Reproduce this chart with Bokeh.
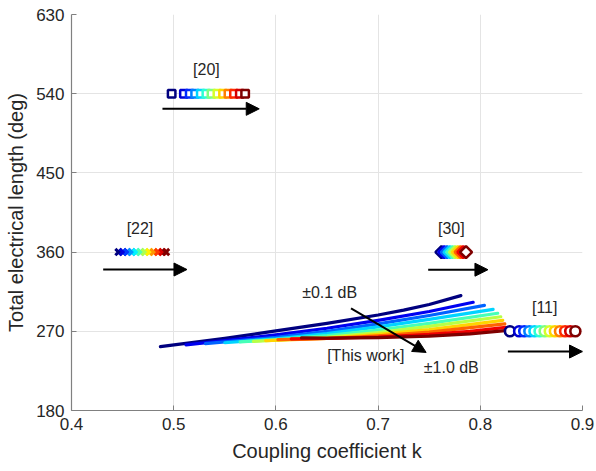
import numpy as np
from bokeh.plotting import figure
from bokeh.models import Arrow, NormalHead, Label, FixedTicker
from bokeh.embed import file_html
from bokeh.resources import INLINE

# ---------------- data ----------------
# "This work" curves (coupling k, total electrical length in deg), blue -> dark red
curve_k = [
    [0.487, 0.55, 0.60, 0.65, 0.70, 0.725, 0.75, 0.781],
    [0.512, 0.55, 0.60, 0.65, 0.70, 0.75, 0.793],
    [0.531, 0.60, 0.65, 0.70, 0.75, 0.804],
    [0.550, 0.60, 0.65, 0.70, 0.75, 0.8125],
    [0.565, 0.60, 0.65, 0.70, 0.75, 0.817],
    [0.578, 0.60, 0.65, 0.70, 0.75, 0.820],
    [0.590, 0.65, 0.70, 0.75, 0.822],
    [0.602, 0.65, 0.70, 0.75, 0.824],
    [0.615, 0.65, 0.70, 0.75, 0.79, 0.825],
    [0.625, 0.65, 0.70, 0.75, 0.79, 0.827],
]
curve_deg = [
    [252.5, 262, 270.5, 279, 288.5, 294, 300.5, 310.5],
    [254.5, 259.5, 266, 273.5, 282.5, 292.5, 303],
    [256, 263, 270, 278.5, 288, 299.5],
    [257, 261.5, 267.5, 275, 283.5, 295],
    [258, 260.5, 265, 271.5, 279, 290.5],
    [258.5, 259.8, 263, 268.5, 275.5, 286.5],
    [259.5, 262, 266.5, 272, 282.5],
    [260.5, 261.8, 264.8, 269, 278.5],
    [261.5, 261.8, 263.5, 266.5, 270, 274.5],
    [262.5, 262.3, 262.8, 264.5, 267, 271],
]

# Reference works
ref20_k = [0.498, 0.510, 0.5157, 0.521, 0.5265, 0.532, 0.537, 0.5428, 0.5483, 0.5536, 0.559, 0.5647, 0.5699]
ref20_deg = 540
ref22_k = [0.446, 0.4503, 0.4546, 0.4589, 0.4632, 0.4675, 0.4718, 0.4761, 0.4804, 0.4847, 0.489, 0.4925]
ref22_deg = 360
ref30_k = [0.762, 0.7647, 0.7673, 0.770, 0.7727, 0.7753, 0.778, 0.7807, 0.7833, 0.786]
ref30_deg = 360
ref11_k = [0.829, 0.838, 0.843, 0.848, 0.853, 0.858, 0.863, 0.868, 0.873, 0.878, 0.883, 0.888, 0.893]
ref11_deg = 270

ref_labels = ["[20]", "[22]", "[30]", "[11]"]
ref_label_k = [0.532, 0.467, 0.7716, 0.863]
ref_label_deg = [568, 387, 386.5, 297.4]
ref_arrow_k0 = [0.489, 0.431, 0.749, 0.827]
ref_arrow_k1 = [0.5837, 0.513, 0.8075, 0.900]
ref_arrow_deg = [522.8, 340.2, 340.0, 247.0]

x_ticks = [0.4, 0.5, 0.6, 0.7, 0.8, 0.9]
y_ticks = [180, 270, 360, 450, 540, 630]

FONT = "Liberation Sans"
TXT = "#262626"


def jet(t):
    r = min(max(1.5 - abs(4 * t - 3), 0), 1)
    g = min(max(1.5 - abs(4 * t - 2), 0), 1)
    b = min(max(1.5 - abs(4 * t - 1), 0), 1)
    return "#%02x%02x%02x" % (int(r * 255), int(g * 255), int(b * 255))


def jet_list(n):
    return [jet(i / (n - 1)) for i in range(n)]


p = figure(x_range=(0.4, 0.9), y_range=(180, 630),
           frame_width=511, frame_height=396,
           min_border_left=71, min_border_right=14, min_border_top=14, min_border_bottom=61,
           output_backend="svg", toolbar_location=None)
p.outline_line_color = None
p.background_fill_color = "white"
p.border_fill_color = "white"

p.xaxis.ticker = FixedTicker(ticks=x_ticks)
p.yaxis.ticker = FixedTicker(ticks=y_ticks)
p.xgrid.ticker = FixedTicker(ticks=x_ticks[1:])
p.ygrid.ticker = FixedTicker(ticks=y_ticks[1:-1])
p.grid.grid_line_color = "#e4e4e4"
p.grid.grid_line_width = 1

for ax in (p.xaxis[0], p.yaxis[0]):
    ax.axis_line_color = "#808080"
    ax.axis_line_width = 1.2
    ax.major_tick_line_color = "#808080"
    ax.major_tick_in = 5
    ax.major_tick_out = 0
    ax.minor_tick_line_color = None
    ax.major_label_text_font = FONT
    ax.major_label_text_font_size = "17px"
    ax.major_label_text_color = TXT
    ax.major_label_standoff = 7
    ax.axis_label_text_font = FONT
    ax.axis_label_text_font_size = "20px"
    ax.axis_label_text_font_style = "normal"
    ax.axis_label_text_color = TXT

p.yaxis.axis_label = "Total electrical length (deg)"
p.yaxis.axis_label_standoff = 6
p.xaxis.axis_label = "Coupling coefficient k"
p.xaxis.axis_label_standoff = 7

# curves
cc = jet_list(len(curve_k))
for ks, ds, c in zip(curve_k, curve_deg, cc):
    p.line(ks, ds, line_color=c, line_width=3.2, line_cap="round", line_join="round")

# reference markers
p.scatter(ref20_k, [ref20_deg] * len(ref20_k), marker="square", size=7.5,
          line_color=jet_list(len(ref20_k)), fill_color="white", line_width=2.5)
p.scatter(ref22_k, [ref22_deg] * len(ref22_k), marker="x", size=9,
          line_color=jet_list(len(ref22_k)), line_width=3)
p.scatter(ref30_k, [ref30_deg] * len(ref30_k), marker="square", angle=np.pi / 4, size=8.5,
          line_color=jet_list(len(ref30_k)), fill_color="white", line_width=2.6)
p.scatter(ref11_k, [ref11_deg] * len(ref11_k), marker="circle", size=10,
          line_color=jet_list(len(ref11_k)), fill_color="white", line_width=2.6)

# reference arrows and labels
for k0, k1, d in zip(ref_arrow_k0, ref_arrow_k1, ref_arrow_deg):
    p.add_layout(Arrow(end=NormalHead(size=13, fill_color="black", line_color="black"),
                       x_start=k0, y_start=d, x_end=k1, y_end=d,
                       line_color="black", line_width=2))
for t, k, d in zip(ref_labels, ref_label_k, ref_label_deg):
    p.add_layout(Label(x=k, y=d, text=t, text_align="center", text_baseline="middle",
                       text_font=FONT, text_font_size="16px", text_color=TXT))

# this-work annotation
p.add_layout(Arrow(end=NormalHead(size=13, fill_color="black", line_color="black"),
                   x_start=0.6735, y_start=296, x_end=0.747, y_end=246,
                   line_color="black", line_width=2))
p.add_layout(Label(x=0.6526, y=314, text="±0.1 dB", text_align="center", text_baseline="middle",
                   text_font=FONT, text_font_size="16px", text_color=TXT))
p.add_layout(Label(x=0.688, y=242.5, text="[This work]", text_align="center", text_baseline="middle",
                   text_font=FONT, text_font_size="16px", text_color=TXT))
p.add_layout(Label(x=0.7716, y=228.5, text="±1.0 dB", text_align="center", text_baseline="middle",
                   text_font=FONT, text_font_size="16px", text_color=TXT))

open("out.html", "w").write(file_html(p, INLINE))
